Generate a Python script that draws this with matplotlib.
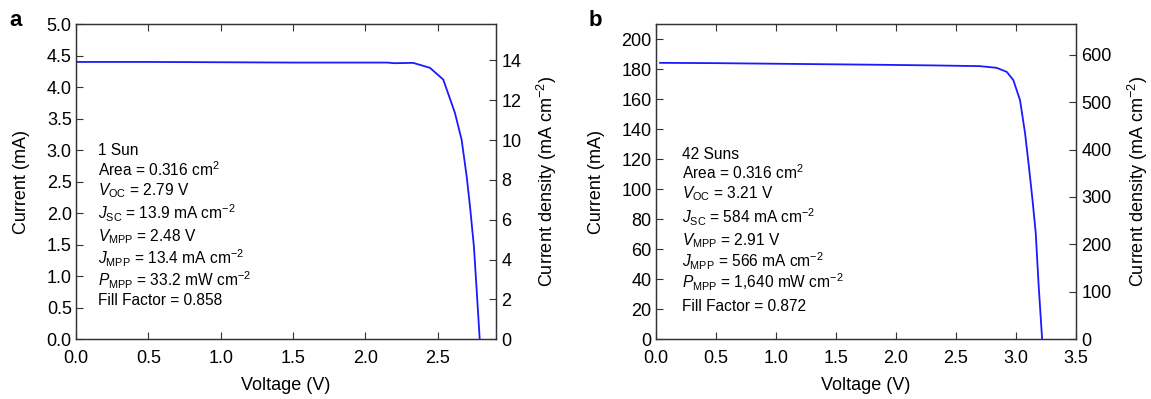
import matplotlib
matplotlib.use("Agg")
import matplotlib.pyplot as plt
from matplotlib.ticker import FormatStrFormatter

plt.rcParams["font.family"] = ["Liberation Sans", "DejaVu Sans"]
plt.rcParams["mathtext.fontset"] = "custom"
plt.rcParams["mathtext.rm"] = "Liberation Sans"
plt.rcParams["mathtext.it"] = "Liberation Sans:italic"
plt.rcParams["mathtext.default"] = "regular"

AREA = 0.316

# panel a: 1 sun
voltage_a = [0.0, 0.5, 1.0, 1.5, 2.0, 2.15, 2.2, 2.33, 2.446, 2.538, 2.619,
             2.665, 2.70, 2.723, 2.75, 2.769, 2.79]
current_a = [4.40, 4.40, 4.395, 4.39, 4.39, 4.39, 4.38, 4.385, 4.307, 4.121,
             3.590, 3.166, 2.582, 2.105, 1.469, 0.781, 0.0]

# panel b: 42 suns
voltage_b = [0.036, 0.5, 1.0, 1.5, 1.87, 2.3, 2.70, 2.84, 2.925, 2.98, 3.036,
             3.078, 3.11, 3.14, 3.167, 3.19, 3.22]
current_b = [184.2, 184.0, 183.6, 183.2, 182.9, 182.5, 182.0, 180.9, 178.2,
             172.7, 159.3, 137.1, 114.9, 92.7, 70.5, 37.1, 0.0]

text_a = ["1 Sun", "Area = 0.316 cm$^2$", "$\\mathit{V}_{OC}$ = 2.79 V",
          "$\\mathit{J}_{SC}$ = 13.9 mA cm$^{-2}$", "$\\mathit{V}_{MPP}$ = 2.48 V",
          "$\\mathit{J}_{MPP}$ = 13.4 mA cm$^{-2}$",
          "$\\mathit{P}_{MPP}$ = 33.2 mW cm$^{-2}$", "Fill Factor = 0.858"]
text_b = ["42 Suns", "Area = 0.316 cm$^2$", "$\\mathit{V}_{OC}$ = 3.21 V",
          "$\\mathit{J}_{SC}$ = 584 mA cm$^{-2}$", "$\\mathit{V}_{MPP}$ = 2.91 V",
          "$\\mathit{J}_{MPP}$ = 566 mA cm$^{-2}$",
          "$\\mathit{P}_{MPP}$ = 1,640 mW cm$^{-2}$", "Fill Factor = 0.872"]
text_ya = [0.600, 0.537, 0.470, 0.400, 0.324, 0.257, 0.187, 0.124]
text_yb = [0.587, 0.527, 0.463, 0.387, 0.314, 0.248, 0.181, 0.105]

FS = 13
SPINE = "#333333"

fig = plt.figure(figsize=(11.51, 3.99), dpi=100)


def make_panel(rect, v, i, xlim, ylim, xticks, yticks, jticks, lines, ys, tx, letter):
    ax = fig.add_axes(rect)
    ax.plot(v, i, color="#1a1aff", lw=1.3)
    ax.set_xlim(*xlim)
    ax.set_ylim(*ylim)
    ax.set_xticks(xticks)
    ax.set_yticks(yticks)
    ax.set_xlabel("Voltage (V)", fontsize=FS, labelpad=7)
    ax.set_ylabel("Current (mA)", fontsize=FS, labelpad=12)
    ax.tick_params(direction="in", length=5, width=0.8, labelsize=FS,
                   top=True, color=SPINE)
    ax.tick_params(axis="x", pad=8)
    ax.tick_params(axis="y", pad=3)
    for s in ax.spines.values():
        s.set_color(SPINE)
        s.set_linewidth(0.9)

    ax2 = ax.twinx()
    ax2.set_ylim(ylim[0] / AREA, ylim[1] / AREA)
    ax2.set_yticks(jticks)
    ax2.tick_params(direction="in", length=5, width=0.8, labelsize=FS,
                    color=SPINE, pad=4)
    ax2.set_ylabel("Current density (mA cm$^{-2}$)", fontsize=FS, labelpad=10)
    for s in ax2.spines.values():
        s.set_color(SPINE)
        s.set_linewidth(0.9)

    for line, y in zip(lines, ys):
        ax.text(tx, y, line, transform=ax.transAxes, fontsize=11.2,
                va="center", ha="left")

    fig.text(rect[0] - 0.058, 0.948, letter, fontsize=16, fontweight="bold",
             va="center", ha="left")
    return ax


ax_a = make_panel([0.066, 0.150, 0.3646, 0.7895], voltage_a, current_a,
                  (0, 2.9), (0, 5.0), [0, 0.5, 1.0, 1.5, 2.0, 2.5],
                  [0, 0.5, 1.0, 1.5, 2.0, 2.5, 3.0, 3.5, 4.0, 4.5, 5.0],
                  [0, 2, 4, 6, 8, 10, 12, 14], text_a, text_ya, 0.053, "a")
ax_b = make_panel([0.5697, 0.150, 0.3649, 0.7895], voltage_b, current_b,
                  (0, 3.5), (0, 210), [0, 0.5, 1.0, 1.5, 2.0, 2.5, 3.0, 3.5],
                  list(range(0, 201, 20)),
                  [0, 100, 200, 300, 400, 500, 600], text_b, text_yb, 0.062, "b")

ax_a.xaxis.set_major_formatter(FormatStrFormatter("%.1f"))
ax_a.yaxis.set_major_formatter(FormatStrFormatter("%.1f"))
ax_b.xaxis.set_major_formatter(FormatStrFormatter("%.1f"))

fig.savefig("out.png", dpi=100)
